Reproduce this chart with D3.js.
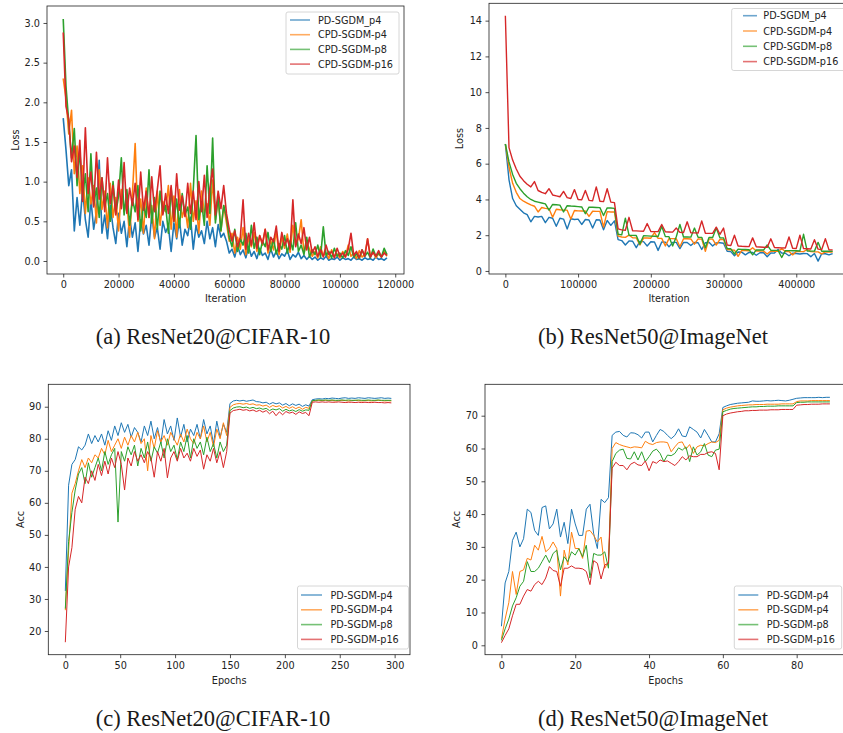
<!DOCTYPE html>
<html lang="en">
<head>
<meta charset="UTF-8">
<title>PD-SGDM vs CPD-SGDM</title>
<script src="https://d3js.org/d3.v7.min.js"></script>
<style>
  body { margin: 0; background: #fff; }
  svg { display: block; }
  .axis-label { font-family: "DejaVu Sans", sans-serif; font-size: 9.7px; fill: #222; }
  .legend text { font-family: "DejaVu Sans", sans-serif; font-size: 9.7px; fill: #222; }
  .caption { font-family: "Liberation Serif", serif; font-size: 22.5px; fill: #1a1a1a; }
</style>
</head>
<body>
<svg id="chart" width="843" height="733"></svg>
<script>
// ---- series names / colours ----
const lossNames = ["PD-SGDM_p4", "CPD-SGDM-p4", "CPD-SGDM-p8", "CPD-SGDM-p16"];
const accNames = ["PD-SGDM-p4", "PD-SGDM-p4", "PD-SGDM-p8", "PD-SGDM-p16"];
const colors = ["#1f77b4", "#ff7f0e", "#2ca02c", "#d62728"];
const captions = ["(a) ResNet20@CIFAR-10", "(b) ResNet50@ImageNet", "(c) ResNet20@CIFAR-10", "(d) ResNet50@ImageNet"];

// ---- (a) ResNet20 loss, one value every 1000 iterations ----
const cifarLossStep = 1000;
const cifarLossPD4 = [1.80,1.40,0.95,1.15,0.38,0.80,0.45,0.90,0.52,0.30,
  0.78,0.40,0.62,1.27,0.35,0.58,0.28,0.70,0.42,0.22,
  0.60,0.35,0.50,0.18,0.55,0.30,0.48,0.12,0.52,0.34,
  0.45,0.20,0.58,0.30,0.42,0.15,0.50,0.36,0.44,0.12,
  0.48,0.28,0.52,0.20,0.40,0.32,0.55,0.15,0.45,0.30,
  0.38,0.22,0.50,0.28,0.42,0.18,0.46,0.30,0.35,0.25,
  0.10,0.15,0.05,0.20,0.08,0.14,0.04,0.18,0.06,0.12,
  0.03,0.16,0.07,0.10,0.02,0.15,0.05,0.12,0.03,0.09,
  0.06,0.13,0.02,0.08,0.05,0.11,0.03,0.07,0.02,0.06,
  0.02,0.05,0.01,0.04,0.02,0.06,0.01,0.03,0.02,0.05,
  0.01,0.04,0.02,0.03,0.01,0.05,0.02,0.03,0.01,0.04,
  0.02,0.03,0.01,0.05,0.02,0.03,0.01,0.04];
const cifarLossCPD4 = [2.30,2.05,1.60,1.90,1.10,1.45,0.85,1.20,0.60,1.05,
  0.72,0.95,0.48,1.15,0.65,0.88,0.42,0.98,0.55,0.80,
  0.38,0.90,0.62,0.75,0.30,0.85,1.48,0.50,0.78,0.35,
  0.92,0.55,0.70,0.28,0.88,0.45,0.75,0.62,0.95,0.40,
  0.82,0.30,0.90,0.55,0.68,0.42,0.98,0.50,0.76,0.35,
  0.88,0.60,0.72,0.45,1.02,0.52,0.80,0.38,0.70,0.48,
  0.25,0.35,0.10,0.30,0.15,0.42,0.08,0.28,0.18,0.36,
  0.12,0.32,0.20,0.40,0.10,0.26,0.14,0.38,0.08,0.30,
  0.16,0.34,0.11,0.45,0.20,0.28,0.52,0.10,0.24,0.15,
  0.06,0.12,0.04,0.18,0.07,0.10,0.03,0.14,0.06,0.09,
  0.04,0.12,0.05,0.20,0.06,0.10,0.03,0.13,0.05,0.08,
  0.28,0.06,0.11,0.04,0.09,0.05,0.12,0.06];
const cifarLossCPD8 = [3.05,2.20,1.75,1.30,1.67,0.95,1.40,0.80,1.10,0.62,
  1.35,0.70,0.92,0.55,1.05,0.68,0.85,0.50,1.00,0.60,
  0.82,1.30,0.58,0.90,0.45,0.78,0.62,0.95,0.38,0.72,
  0.55,1.15,0.48,0.80,0.40,0.88,0.60,0.70,0.35,0.92,
  0.50,0.78,0.42,0.85,0.58,0.68,0.40,0.90,1.58,0.52,
  0.75,0.45,1.20,0.60,1.55,0.48,0.82,0.38,0.70,0.55,
  0.30,0.18,0.40,0.12,0.28,0.20,0.35,0.10,0.45,0.16,
  0.30,0.08,0.25,0.18,0.36,0.12,0.28,0.09,0.22,0.15,
  0.32,0.10,0.26,0.14,0.48,0.12,0.20,0.08,0.30,0.05,
  0.14,0.08,0.20,0.05,0.43,0.07,0.12,0.04,0.16,0.06,
  0.10,0.04,0.13,0.07,0.18,0.05,0.09,0.03,0.14,0.06,
  0.11,0.04,0.15,0.06,0.10,0.05,0.16,0.08];
const cifarLossCPD16 = [2.88,1.95,1.78,1.25,1.45,1.05,1.52,0.75,1.68,0.85,
  1.12,0.68,1.37,0.78,1.05,0.62,1.30,0.72,0.95,0.58,
  1.02,0.66,1.24,0.60,0.92,0.70,0.98,0.52,1.12,0.64,
  0.88,0.55,1.06,0.62,0.90,1.20,0.58,0.85,0.60,0.95,
  0.50,1.10,0.64,0.82,0.56,0.98,0.60,0.88,0.52,1.00,
  0.62,1.08,0.55,0.92,1.16,0.58,0.88,0.66,0.95,0.60,
  0.40,0.25,0.38,0.18,0.30,0.77,0.15,0.35,0.20,0.48,
  0.16,0.32,0.22,0.40,0.14,0.30,0.24,0.44,0.12,0.36,
  0.20,0.28,0.15,0.77,0.18,0.34,0.22,0.42,0.14,0.30,
  0.10,0.18,0.06,0.14,0.05,0.20,0.08,0.12,0.04,0.16,
  0.06,0.10,0.05,0.15,0.35,0.07,0.12,0.04,0.14,0.06,
  0.28,0.05,0.11,0.06,0.13,0.05,0.10,0.07];

// ---- (b) ResNet50 loss, one value every 5000 iterations ----
const imagenetLossStep = 5000;
const imagenetLossPD4 = [7.10,5.10,4.05,3.65,3.45,3.25,3.15,2.75,3.05,3.02,
  3.05,2.70,3.00,2.95,2.50,2.95,2.90,2.35,2.92,2.88,
  2.90,2.60,2.88,2.85,2.40,2.86,2.85,2.30,2.82,2.55,
  2.80,
  1.75,1.70,1.45,1.68,1.66,1.30,1.65,1.64,1.40,
  1.63,1.62,1.15,1.62,1.61,1.35,1.60,1.60,1.25,1.60,
  1.59,1.42,1.59,1.58,1.20,1.58,1.60,1.40,1.57,1.58,
  1.55,
  1.10,1.08,0.85,1.06,1.05,0.90,1.04,1.03,0.88,
  1.02,1.02,0.80,1.01,1.00,1.20,1.00,0.99,0.85,0.99,
  0.98,0.95,0.98,0.97,0.80,0.98,0.55,0.97,0.96,0.90,0.97];
const imagenetLossCPD4 = [7.10,5.80,4.90,4.40,4.05,3.90,3.80,3.70,3.62,3.30,
  3.55,3.50,3.48,3.00,3.45,3.42,3.40,3.40,2.90,3.38,
  3.36,3.35,3.35,3.05,3.34,3.33,3.33,2.45,3.32,3.30,
  3.30,
  1.95,1.90,1.88,2.00,1.86,1.85,1.45,1.84,1.84,
  1.83,2.15,1.82,1.82,1.40,1.81,1.81,1.80,1.35,1.80,
  1.80,1.79,1.50,1.79,1.78,1.10,1.78,1.78,1.45,1.77,
  1.76,
  1.20,1.18,1.16,0.82,1.15,1.14,1.13,1.30,1.12,
  1.12,1.11,0.95,1.11,1.10,1.10,1.25,1.09,1.09,0.90,
  1.09,1.08,1.08,1.20,1.08,1.07,1.07,0.95,1.07,1.06,1.06];
const imagenetLossCPD8 = [7.10,6.10,5.40,4.90,4.60,4.35,4.15,4.00,3.90,3.85,
  3.80,3.75,3.40,3.72,3.70,3.68,3.30,3.65,3.63,3.62,
  3.60,3.58,3.20,3.57,3.56,3.55,3.54,3.10,3.53,3.52,
  3.50,
  2.05,2.02,2.95,2.00,1.99,1.98,1.50,1.97,1.96,
  1.95,1.94,1.93,2.50,1.92,1.92,1.40,1.91,2.60,1.90,
  1.90,1.89,2.40,1.88,1.88,1.30,1.87,1.87,2.40,1.86,
  1.85,
  1.25,1.24,0.95,1.22,1.21,1.20,1.19,0.90,1.18,
  1.17,1.17,1.45,1.16,1.15,1.15,0.75,1.14,1.14,1.13,
  1.13,1.12,2.05,1.12,1.11,1.11,1.60,1.10,1.10,1.10,1.10];
const imagenetLossCPD16 = [14.27,6.90,6.20,5.70,5.30,5.05,4.85,4.70,5.00,4.50,
  4.40,4.32,4.60,4.25,4.20,4.15,4.45,4.10,4.05,4.55,
  4.00,3.98,4.50,3.95,3.93,4.70,3.90,3.88,4.60,3.85,
  3.82,
  2.35,2.30,2.28,3.00,2.25,2.24,2.23,2.22,2.65,
  2.21,2.20,2.20,2.60,2.19,2.18,2.17,2.40,2.16,2.15,
  2.75,2.14,2.13,2.12,2.80,2.11,2.10,2.10,2.45,2.05,
  2.40,
  1.45,1.42,2.00,1.40,1.38,1.37,1.36,1.85,1.35,
  1.34,1.33,1.32,1.80,1.31,1.30,1.29,1.28,1.90,1.27,
  1.26,2.00,1.25,1.24,1.23,1.75,1.22,1.20,1.80,1.18,1.18];

// ---- (c) ResNet20 accuracy, one value every 3 epochs ----
const cifarAccStep = 3;
const cifarAccPD4 = [32.5,65.5,72.0,73.5,77.5,76.5,78.0,81.5,78.5,81.0,
  79.0,81.5,78.0,82.5,79.5,84.0,81.0,85.0,82.0,84.5,
  80.5,83.5,82.0,79.0,84.0,81.0,85.5,80.0,83.5,78.5,
  86.0,81.5,84.0,79.5,86.5,80.5,84.5,79.0,83.0,81.0,
  84.5,80.0,86.0,81.5,84.0,78.5,85.5,80.5,84.5,82.0,
  91.0,91.8,92.0,91.8,92.0,91.7,91.9,92.1,91.6,91.5,
  91.2,91.4,90.8,91.3,90.9,91.2,90.5,91.0,90.3,90.9,
  90.4,90.8,90.1,90.6,90.2,92.2,92.4,92.5,92.4,92.6,
  92.5,92.7,92.6,92.5,92.7,92.8,92.6,92.7,92.6,92.8,
  92.7,92.6,92.8,92.7,92.6,92.7,92.8,92.6,92.7,92.6];
const cifarAccPD4b = [26.5,45.0,63.0,66.0,70.0,73.5,71.0,74.0,72.5,75.0,
  74.0,77.0,75.0,79.5,76.0,78.0,80.0,77.0,80.5,78.0,
  81.0,79.0,82.0,78.5,80.0,70.0,81.0,77.0,82.5,79.0,
  81.0,78.0,82.0,80.0,78.0,81.5,79.0,83.0,80.0,78.5,
  82.0,80.0,84.0,79.0,82.0,77.5,83.0,80.0,85.0,81.0,
  89.8,90.6,90.9,91.0,90.8,91.0,90.7,90.9,90.5,90.6,
  90.2,90.5,89.8,90.4,90.0,90.3,89.6,90.1,89.5,90.0,
  89.4,89.9,89.2,89.8,89.5,91.8,91.9,92.0,91.9,92.0,
  91.9,92.0,91.8,91.9,92.0,91.9,91.8,91.9,92.0,91.9,
  91.8,91.9,91.9,91.8,91.9,92.0,91.9,91.8,91.9,91.8];
const cifarAccPD8 = [27.0,48.0,57.0,64.0,69.0,71.0,66.0,72.5,68.0,71.0,
  74.0,70.0,76.0,72.0,75.0,77.0,54.0,76.0,73.0,77.5,
  75.0,78.0,71.5,77.0,74.0,79.0,73.0,77.5,75.5,79.0,
  74.0,80.0,76.0,78.0,73.5,79.0,76.0,81.0,74.0,80.0,
  77.0,79.0,75.0,80.5,76.0,78.5,74.0,79.0,76.0,78.0,
  88.8,89.6,89.9,90.0,89.7,89.9,89.5,89.8,89.4,89.6,
  89.2,89.5,88.8,89.3,89.0,89.4,88.6,89.2,88.7,89.0,
  88.5,89.1,88.6,89.0,88.9,91.9,92.0,92.1,92.0,92.1,
  92.0,92.1,92.0,92.0,92.1,92.0,92.1,92.0,92.0,92.1,
  92.0,92.0,92.1,92.0,92.0,92.1,92.0,92.0,92.0,92.0];
const cifarAccPD16 = [16.5,40.0,46.0,58.0,62.0,60.0,68.0,66.0,70.0,67.0,
  72.0,68.5,73.0,69.0,74.0,71.0,76.0,72.0,64.0,74.0,
  71.5,76.0,73.0,75.0,72.5,76.0,74.0,68.0,76.0,73.0,
  77.0,67.8,74.0,76.0,73.0,77.0,74.0,75.5,73.0,77.0,
  74.5,76.5,70.5,75.0,73.0,77.0,72.5,76.0,71.0,76.0,
  88.0,88.8,89.0,89.2,88.9,89.1,88.7,89.0,88.5,88.9,
  88.3,88.8,87.8,88.6,87.2,88.4,87.5,88.5,88.0,88.3,
  87.6,88.4,87.9,88.2,87.2,91.4,91.5,91.4,91.5,91.4,
  91.5,91.4,91.4,91.5,91.4,91.3,91.4,91.4,91.3,91.4,
  91.3,91.4,91.3,91.3,91.4,91.3,91.3,91.2,91.3,91.2];

// ---- (d) ResNet50 accuracy, one value per epoch ----
const imagenetAccStep = 1;
const imagenetAccPD4 = [5.8,19.0,22.5,32.0,34.5,30.0,32.5,41.5,40.5,35.0,
  33.5,42.0,42.5,35.5,37.0,41.5,33.0,37.5,31.0,41.5,
  37.0,33.5,33.5,41.5,43.0,34.0,29.5,44.5,43.5,45.0,
  64.0,65.0,65.2,64.0,63.5,64.8,64.7,64.2,63.2,65.0,
  65.0,62.0,64.0,65.8,65.2,64.0,63.0,64.0,66.0,63.8,
  63.6,66.6,65.8,65.0,63.2,65.8,64.0,62.0,62.0,64.5,
  72.5,73.0,73.4,73.6,73.8,73.9,74.0,74.1,74.5,74.4,
  74.4,74.5,74.6,74.5,74.6,74.7,74.6,74.5,74.7,75.0,
  75.3,75.4,75.5,75.5,75.5,75.5,75.6,75.5,75.6,75.6];
const imagenetAccPD4b = [2.0,8.0,13.0,22.5,15.5,22.5,23.0,26.5,26.0,30.5,
  29.0,33.2,28.5,29.5,31.5,29.5,15.0,29.0,24.5,34.5,
  29.5,29.5,26.5,34.8,35.0,33.5,31.5,33.0,23.5,25.5,
  60.0,61.8,61.2,60.8,60.5,60.2,60.5,60.4,60.2,62.2,
  61.5,61.2,61.8,62.0,62.0,61.8,59.0,60.5,61.8,62.0,
  59.8,61.2,58.5,60.5,61.0,60.8,61.5,62.0,61.8,62.5,
  71.8,72.3,72.6,72.8,73.0,73.1,73.2,73.3,73.3,73.4,
  73.4,73.4,73.5,73.5,73.5,73.5,73.6,73.6,73.6,73.6,
  74.3,74.5,74.5,74.5,74.6,74.6,74.6,74.6,74.6,74.6];
const imagenetAccPD8 = [1.5,5.0,8.0,12.0,14.5,18.0,19.5,25.5,22.5,22.5,
  23.5,25.5,27.5,25.2,28.0,29.0,23.0,27.0,25.5,28.5,
  27.5,29.5,27.0,30.5,20.5,28.0,27.5,27.5,28.5,23.5,
  56.0,58.5,59.5,59.8,57.0,56.8,59.0,56.5,59.0,56.0,
  57.5,59.2,59.8,58.5,56.0,58.0,57.8,58.5,60.2,59.5,
  60.5,56.0,60.5,58.0,59.0,61.5,58.0,57.5,59.5,59.8,
  71.2,71.6,72.0,72.2,72.3,72.4,72.5,72.6,72.7,72.7,
  72.8,72.8,72.9,72.9,72.9,73.0,73.0,73.0,73.0,73.0,
  74.0,74.1,74.1,74.2,74.2,74.2,74.2,74.2,74.2,74.2];
const imagenetAccPD16 = [0.8,3.0,5.0,9.0,12.5,12.5,15.0,17.0,16.5,18.5,
  19.5,18.5,20.5,24.0,22.8,22.5,18.0,23.5,23.5,24.2,
  23.5,23.5,23.3,22.5,18.5,25.8,25.0,20.2,24.5,25.0,
  54.0,55.8,54.8,54.8,53.5,55.2,55.8,55.0,54.8,56.2,
  53.2,56.0,55.5,56.5,56.0,56.2,55.5,54.8,56.0,57.5,
  56.5,57.8,57.5,57.5,58.2,58.2,58.8,59.0,58.5,53.5,
  70.0,70.5,70.8,71.0,71.2,71.3,71.5,71.5,71.6,71.6,
  71.7,71.7,71.7,71.8,71.8,71.8,71.9,71.9,71.9,71.9,
  73.2,73.3,73.4,73.4,73.5,73.5,73.5,73.6,73.6,73.6];

// ---- tick values ----
const ticksA = { x: [0, 20000, 40000, 60000, 80000, 100000, 120000], y: [0, 0.5, 1.0, 1.5, 2.0, 2.5, 3.0] };
const ticksB = { x: [0, 100000, 200000, 300000, 400000], y: [0, 2, 4, 6, 8, 10, 12, 14] };
const ticksC = { x: [0, 50, 100, 150, 200, 250, 300], y: [20, 30, 40, 50, 60, 70, 80, 90] };
const ticksD = { x: [0, 20, 40, 60, 80], y: [0, 10, 20, 30, 40, 50, 60, 70] };

const svg = d3.select("#chart");
svg.append("rect").attr("width", 843).attr("height", 733).attr("fill", "#fff");

const panels = [
  {
    box: [47, 6, 404, 274], xDom: [-5865, 123165], yDom: [-0.164, 3.214],
    series: [cifarLossPD4, cifarLossCPD4, cifarLossCPD8, cifarLossCPD16], step: cifarLossStep,
    names: lossNames, ticks: ticksA, yFmt: d3.format(".1f"), xLab: "Iteration", yLab: "Loss",
    yLabX: 15, xLabY: 298, lw: 1.6,
    legend: { x: 286, y: 12, w: 113, h: 62, row0: 20, dy: 14.7, h0: 290, h1: 310, tx: 318 }
  },
  {
    box: [489, 3.3, 849, 274], xDom: [-22500, 472500], yDom: [-0.17, 14.97],
    series: [imagenetLossPD4, imagenetLossCPD4, imagenetLossCPD8, imagenetLossCPD16], step: imagenetLossStep,
    names: lossNames, ticks: ticksB, yFmt: d3.format("d"), xLab: "Iteration", yLab: "Loss",
    yLabX: 459, xLabY: 298, lw: 1.4,
    legend: { x: 731.7, y: 8.5, w: 120, h: 62, row0: 15.7, dy: 15.3, h0: 743, h1: 757, tx: 763.3 }
  },
  {
    box: [48.3, 384.3, 410, 654.7], xDom: [-15.5, 314], yDom: [12.6, 97.0],
    series: [cifarAccPD4, cifarAccPD4b, cifarAccPD8, cifarAccPD16], step: cifarAccStep,
    names: accNames, ticks: ticksC, yFmt: d3.format("d"), xLab: "Epochs", yLab: "Acc",
    yLabX: 20, xLabY: 680, lw: 1.0,
    legend: { x: 297.5, y: 586, w: 111, h: 63, row0: 595, dy: 14.8, h0: 301, h1: 322, tx: 330.5 }
  },
  {
    box: [485, 384.3, 846.3, 654.7], xDom: [-4.45, 93.45], yDom: [-2.87, 79.57],
    series: [imagenetAccPD4, imagenetAccPD4b, imagenetAccPD8, imagenetAccPD16], step: imagenetAccStep,
    names: accNames, ticks: ticksD, yFmt: d3.format("d"), xLab: "Epochs", yLab: "Acc",
    yLabX: 456, xLabY: 680, lw: 1.0,
    legend: { x: 734.3, y: 586, w: 107.4, h: 63, row0: 595, dy: 14.8, h0: 738.3, h1: 758.3, tx: 766.7 }
  }
];

function styleAxis(g) {
  g.select(".domain").remove();
  g.selectAll(".tick line").attr("stroke", "#222").attr("stroke-width", 0.8);
  g.selectAll(".tick text")
    .attr("font-family", "DejaVu Sans, sans-serif")
    .attr("font-size", 9.7)
    .attr("fill", "#222");
}

panels.forEach((p, pi) => {
  const [x0, y0, x1, y1] = p.box;
  const x = d3.scaleLinear().domain(p.xDom).range([x0, x1]);
  const y = d3.scaleLinear().domain(p.yDom).range([y1, y0]);
  const g = svg.append("g");

  const clipId = "clip" + pi;
  g.append("clipPath").attr("id", clipId)
    .append("rect").attr("x", x0).attr("y", y0).attr("width", x1 - x0).attr("height", y1 - y0);

  const line = d3.line()
    .x((d, i) => x(i * p.step))
    .y(d => y(d));

  g.append("g").attr("clip-path", `url(#${clipId})`)
    .selectAll("path")
    .data(p.series)
    .join("path")
    .attr("d", line)
    .attr("fill", "none")
    .attr("stroke", (d, i) => colors[i])
    .attr("stroke-width", p.lw)
    .attr("stroke-linejoin", "round");

  // axes
  g.append("g")
    .attr("transform", `translate(0,${y1})`)
    .call(d3.axisBottom(x).tickValues(p.ticks.x).tickSize(3.5).tickPadding(3.5).tickFormat(d3.format("d")))
    .call(styleAxis);
  g.append("g")
    .attr("transform", `translate(${x0},0)`)
    .call(d3.axisLeft(y).tickValues(p.ticks.y).tickSize(3.5).tickPadding(3.5).tickFormat(p.yFmt))
    .call(styleAxis);

  // frame
  g.append("rect")
    .attr("x", x0).attr("y", y0).attr("width", x1 - x0).attr("height", y1 - y0)
    .attr("fill", "none").attr("stroke", "#222").attr("stroke-width", 0.8);

  // axis labels
  g.append("text").attr("class", "axis-label")
    .attr("x", (x0 + x1) / 2).attr("y", p.xLabY)
    .attr("text-anchor", "middle").attr("dominant-baseline", "central")
    .text(p.xLab);
  g.append("text").attr("class", "axis-label")
    .attr("transform", `translate(${p.yLabX},${(y0 + y1) / 2}) rotate(-90)`)
    .attr("text-anchor", "middle").attr("dominant-baseline", "central")
    .text(p.yLab);

  // legend
  const L = p.legend;
  const lg = g.append("g").attr("class", "legend");
  lg.append("rect")
    .attr("x", L.x).attr("y", L.y).attr("width", L.w).attr("height", L.h)
    .attr("rx", 2)
    .attr("fill", "#fff").attr("fill-opacity", 0.8)
    .attr("stroke", "#ccc").attr("stroke-width", 0.8);
  p.names.forEach((name, i) => {
    const ry = L.row0 + i * L.dy;
    lg.append("line")
      .attr("x1", L.h0).attr("x2", L.h1).attr("y1", ry).attr("y2", ry)
      .attr("stroke", colors[i]).attr("stroke-width", 1.6).attr("stroke-opacity", 0.65);
    lg.append("text").attr("x", L.tx).attr("y", ry)
      .attr("dominant-baseline", "central").text(name);
  });
});

// captions
const capPos = [[213, 336], [653, 336], [213, 718], [653, 718]];
svg.selectAll(".caption")
  .data(captions)
  .join("text")
  .attr("class", "caption")
  .attr("x", (d, i) => capPos[i][0])
  .attr("y", (d, i) => capPos[i][1])
  .attr("text-anchor", "middle")
  .attr("dominant-baseline", "central")
  .text(d => d);
</script>
</body>
</html>
